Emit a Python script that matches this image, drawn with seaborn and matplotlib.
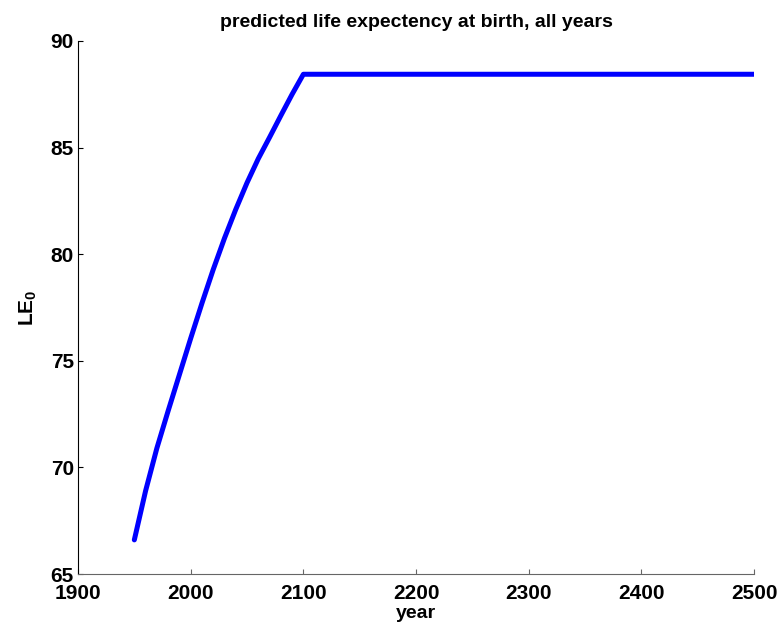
import matplotlib
matplotlib.use("Agg")
import matplotlib.pyplot as plt
import seaborn as sns
import pandas as pd

# values
years = [1950, 1960, 1970, 1980, 1990, 2000, 2010, 2020, 2030, 2040, 2050,
         2060, 2070, 2080, 2090, 2100, 2200, 2300, 2400, 2500]
life_exp = [66.6, 68.9, 70.9, 72.65, 74.35, 76.05, 77.7, 79.28, 80.75, 82.1, 83.35,
            84.48, 85.48, 86.5, 87.5, 88.44, 88.44, 88.44, 88.44, 88.44]
x_ticks = [1900, 2000, 2100, 2200, 2300, 2400, 2500]
y_ticks = [65, 70, 75, 80, 85, 90]

sns.set_style("white")
plt.rcParams["font.family"] = ["Liberation Sans", "DejaVu Sans"]
plt.rcParams["font.weight"] = "bold"
plt.rcParams["text.color"] = "black"
plt.rcParams["axes.labelcolor"] = "black"
plt.rcParams["xtick.color"] = "black"
plt.rcParams["ytick.color"] = "black"
plt.rcParams["mathtext.fontset"] = "custom"
plt.rcParams["mathtext.rm"] = "Liberation Sans:bold"
plt.rcParams["mathtext.bf"] = "Liberation Sans:bold"
plt.rcParams["mathtext.it"] = "Liberation Sans:bold"

df = pd.DataFrame({"year": years, "LE0": life_exp})

fig = plt.figure(figsize=(7.79, 6.25), dpi=100)
ax = fig.add_axes([0.1001, 0.0816, 0.868, 0.8528])
sns.lineplot(data=df, x="year", y="LE0", color="#0000ff", linewidth=3.6, ax=ax)

ax.set_xlim(1900, 2500)
ax.set_ylim(65, 90)
ax.set_xticks(x_ticks)
ax.set_yticks(y_ticks)
ax.tick_params(direction="in", length=3.6, width=0.8, labelsize=15,
               bottom=True, left=True, labelcolor="black")
ax.tick_params(axis="x", pad=7.5, color="#666666")
ax.tick_params(axis="y", pad=3, color="black")
for lab in ax.get_xticklabels() + ax.get_yticklabels():
    lab.set_fontweight("bold")

ax.spines["top"].set_visible(False)
ax.spines["right"].set_visible(False)
ax.spines["left"].set_color("black")
ax.spines["bottom"].set_color("#666666")
ax.spines["left"].set_linewidth(0.8)
ax.spines["bottom"].set_linewidth(0.8)

ax.set_title("predicted life expectency at birth, all years", fontsize=14,
             fontweight="bold", pad=10, color="black")
ax.set_xlabel("year", fontsize=14, fontweight="bold", labelpad=1)
ax.set_ylabel(r"LE$_0$", fontsize=15, fontweight="bold", labelpad=8)

fig.savefig("out.png", dpi=100)
